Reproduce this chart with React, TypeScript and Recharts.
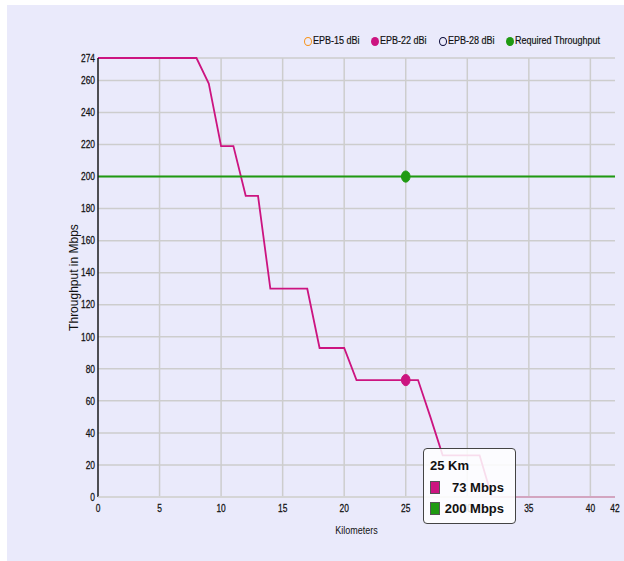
import { CartesianGrid, Label, Line, LineChart, Tooltip, XAxis, YAxis } from 'recharts'

const kilometers = [
  0, 1, 2, 3, 4, 5, 6, 7, 8, 9, 10, 11, 12, 13, 14, 15, 16, 17, 18, 19, 20, 21,
  22, 23, 24, 25, 26, 27, 28, 29, 30, 31, 32, 33, 34, 35, 36, 37, 38, 39, 40,
  41, 42,
]

const epb22 = [
  274, 274, 274, 274, 274, 274, 274, 274, 274, 258, 219, 219, 188, 188, 130,
  130, 130, 130, 93, 93, 93, 73, 73, 73, 73, 73, 73, 50, 26, 26, 26, 26, 0, 0,
  0, 0, 0, 0, 0, 0, 0, 0, 0,
]

const required = [
  200, 200, 200, 200, 200, 200, 200, 200, 200, 200, 200, 200, 200, 200, 200,
  200, 200, 200, 200, 200, 200, 200, 200, 200, 200, 200, 200, 200, 200, 200,
  200, 200, 200, 200, 200, 200, 200, 200, 200, 200, 200, 200, 200,
]

const xTicks = [0, 5, 10, 15, 20, 25, 30, 35, 40, 42]
const yTicks = [0, 20, 40, 60, 80, 100, 120, 140, 160, 180, 200, 220, 240, 260, 274]

const legendNames = ['EPB-15 dBi', 'EPB-22 dBi', 'EPB-28 dBi', 'Required Throughput']
const legendColors = ['#F7941D', '#CC1480', '#0B0B3B', '#1F9A12']
const legendHidden = [true, false, true, false]
const legendLeft = [304, 371, 439, 506]

const data = kilometers.map((km, i) => ({
  km,
  epb22: epb22[i],
  required: required[i],
}))

const ARIAL = '"Liberation Sans", Arial, sans-serif'
const PINK = '#CC1480'
const GREEN = '#1F9A12'

// Arial squeezed horizontally, standing in for a narrow face
function NarrowTick({ x, y, payload, anchor, dy }: any) {
  return (
    <g transform={`translate(${x},${y})`}>
      <text
        transform='scale(0.8,1)'
        textAnchor={anchor}
        dy={dy}
        fill='#111'
        stroke='#111'
        strokeWidth={0.25}
        fontSize={10.5}
        fontFamily={ARIAL}
      >
        {payload.value}
      </text>
    </g>
  )
}

// hover marker, slightly taller than wide
function ovalDot(color: string) {
  return (props: any) => {
    const { cx, cy } = props
    if (cx == null || cy == null) return <g />
    return <ellipse cx={cx} cy={cy} rx={4.3} ry={5.6} fill={color} stroke={color} strokeWidth={1} />
  }
}

function ChartLegend() {
  return (
    <div style={{ position: 'absolute', left: 0, top: 0, fontFamily: ARIAL, fontSize: 11, color: '#111' }}>
      {legendNames.map((name, i) => (
        <div key={name} style={{ position: 'absolute', left: legendLeft[i], top: 37, height: 10 }}>
          <span
            style={{
              position: 'absolute',
              left: 0,
              top: 0,
              width: 8,
              height: 9,
              boxSizing: 'border-box',
              borderRadius: '50%',
              border: legendHidden[i] ? `1.6px solid ${legendColors[i]}` : 'none',
              background: legendHidden[i] ? 'transparent' : legendColors[i],
            }}
          />
          <span
            style={{
              position: 'absolute',
              left: 9,
              top: -3,
              whiteSpace: 'nowrap',
              transform: 'scaleX(0.82)',
              transformOrigin: 'left center',
              WebkitTextStroke: '0.2px #111',
            }}
          >
            {name}
          </span>
        </div>
      ))}
    </div>
  )
}

function InfoBox({ active, payload, label }: any) {
  if (!active || !payload || !payload.length) return null
  return (
    <div
      style={{
        width: 93,
        height: 76,
        boxSizing: 'border-box',
        background: 'rgba(255,255,255,0.86)',
        border: '1px solid #444',
        borderRadius: 4,
        padding: '9px 6px 0 6px',
        fontFamily: ARIAL,
        fontWeight: 'bold',
        fontSize: 13,
        color: '#111',
      }}
    >
      <div style={{ marginBottom: 4 }}>{label} Km</div>
      {payload.map((p: any) => (
        <div
          key={p.dataKey}
          style={{ display: 'flex', alignItems: 'center', justifyContent: 'space-between', height: 21 }}
        >
          <span
            style={{
              display: 'inline-block',
              width: 8,
              height: 11,
              background: p.color,
              border: '1px solid #555',
            }}
          />
          <span style={{ marginRight: 5 }}>{p.value} Mbps</span>
        </div>
      ))}
    </div>
  )
}

export default function App() {
  return (
    <div style={{ position: 'relative', width: 624, height: 561, background: '#fff', overflow: 'hidden' }}>
      <style>{'body{margin:0}'}</style>
      <div
        style={{
          position: 'absolute',
          left: 7,
          top: 5,
          width: 617,
          height: 556,
          background: '#EAEAFB',
        }}
      />
      <div style={{ position: 'absolute', left: 0, top: 0 }}>
        <LineChart
          width={624}
          height={561}
          data={data}
          margin={{ top: 58, right: 9, bottom: 24, left: 0 }}
        >
          <CartesianGrid
            stroke='#CDCDCD'
            strokeWidth={1.5}
            verticalValues={[5, 10, 15, 20, 25, 30, 35, 40]}
          />
          <YAxis
            width={98}
            domain={[0, 274]}
            ticks={yTicks}
            interval={0}
            tickLine={false}
            tickSize={0}
            tickMargin={3}
            axisLine={{ stroke: '#1A1A1A', strokeWidth: 1.5 }}
            tick={<NarrowTick anchor='end' dy='0.355em' />}
          >
            <Label
              value='Throughput in Mbps'
              angle={-90}
              position='insideLeft'
              offset={0}
              dx={74}
              style={{ textAnchor: 'middle', fill: '#111', fontSize: 12, fontFamily: ARIAL }}
            />
          </YAxis>
          <Line
            type='linear'
            dataKey='epb22'
            stroke={PINK}
            strokeWidth={1.8}
            dot={false}
            activeDot={ovalDot(PINK)}
            isAnimationActive={false}
          />
          <Line
            type='linear'
            dataKey='required'
            stroke={GREEN}
            strokeWidth={2}
            dot={false}
            activeDot={ovalDot(GREEN)}
            isAnimationActive={false}
          />
          <XAxis
            dataKey='km'
            type='number'
            domain={[0, 42]}
            ticks={xTicks}
            interval={0}
            height={40}
            tickLine={false}
            tickSize={0}
            tickMargin={8}
            axisLine={{ stroke: '#D6D6D6', strokeWidth: 1.5 }}
            tick={<NarrowTick anchor='middle' dy='0.71em' />}
          >
            <Label
              value='Kilometers'
              position='insideBottom'
              offset={3}
              style={{ fill: '#111', fontSize: 11, fontFamily: ARIAL, transform: 'scaleX(0.82)', transformBox: 'fill-box', transformOrigin: 'center' }}
            />
          </XAxis>
          <Tooltip
            active
            defaultIndex={25}
            position={{ x: 423, y: 448 }}
            cursor={false}
            content={InfoBox}
            isAnimationActive={false}
            wrapperStyle={{ outline: 'none' }}
          />
        </LineChart>
      </div>
      <ChartLegend />
    </div>
  )
}
